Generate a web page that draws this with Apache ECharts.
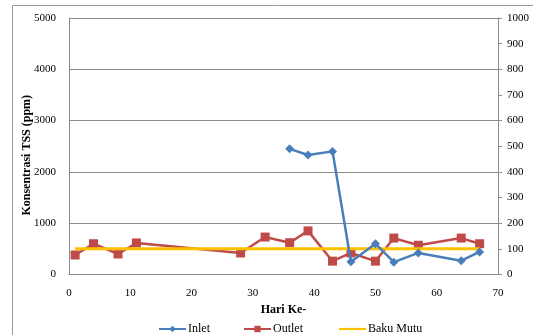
<!DOCTYPE html>
<html>
<head>
<meta charset="utf-8">
<script src="https://cdn.jsdelivr.net/npm/echarts@6/dist/echarts.min.js"></script>
<style>
  html, body { margin: 0; padding: 0; background: #fff; }
  #chart { width: 533px; height: 335px; }
</style>
</head>
<body>
<div id="chart"></div>
<script>
// Sampling days (Hari Ke-) and TSS concentrations (ppm)
const inletDays = [36, 39, 43, 46, 50, 53, 57, 64, 67];
const inletTSS = [2450, 2330, 2400, 250, 600, 240, 420, 270, 440];

const outletDays = [1, 4, 8, 11, 28, 32, 36, 39, 43, 46, 50, 53, 57, 64, 67];
const outletTSS = [380, 600, 400, 615, 420, 730, 620, 850, 260, 420, 260, 710, 570, 710, 600];

// Quality standard (Baku Mutu) line
const bakuMutuDays = [1, 67];
const bakuMutuTSS = [500, 500];

const leftTicks = { min: 0, max: 5000, interval: 1000 };
const rightTicks = { min: 0, max: 1000, interval: 100 };
const xTicks = { min: 0, max: 70, interval: 10 };

const pairs = (xs, ys) => xs.map((x, i) => [x, ys[i]]);

const serif = '"Liberation Serif", "DejaVu Serif", serif';
const axisGray = '#8c8c8c';
const plain = v => String(v);

const legendBase = {
  top: 318,
  itemWidth: 27,
  itemHeight: 8,
  textStyle: { fontFamily: serif, fontSize: 12, color: '#000', padding: [0, 0, 0, -3] }
};

const chart = echarts.init(document.getElementById('chart'));
chart.setOption({
  animation: false,
  textStyle: { fontFamily: serif },
  grid: { left: 69, right: 35, top: 18, bottom: 60.5 },
  graphic: [
    {
      type: 'polyline',
      shape: { points: [[12.5, 340], [12.5, 5.5], [540, 5.5]] },
      style: { stroke: '#9a9a9a', lineWidth: 1, fill: null }
    }
  ],
  xAxis: {
    type: 'value',
    min: xTicks.min, max: xTicks.max, interval: xTicks.interval,
    name: 'Hari Ke-',
    nameLocation: 'middle',
    nameGap: 29,
    nameMoveOverlap: false,
    nameTextStyle: { fontFamily: serif, fontWeight: 'bold', fontSize: 12, color: '#000' },
    axisLine: { show: true, lineStyle: { color: axisGray } },
    axisTick: { show: false },
    splitLine: { show: false },
    axisLabel: { color: '#000', fontSize: 11, margin: 13, fontFamily: serif, formatter: plain }
  },
  yAxis: [
    {
      type: 'value',
      min: leftTicks.min, max: leftTicks.max, interval: leftTicks.interval,
      name: 'Konsentrasi TSS (ppm)',
      nameLocation: 'middle',
      nameGap: 36,
      nameRotate: 90,
      nameMoveOverlap: false,
      nameTextStyle: { fontFamily: serif, fontWeight: 'bold', fontSize: 12, color: '#000', padding: [0, 18, 0, 0] },
      axisLine: { show: true, lineStyle: { color: axisGray } },
      axisTick: { show: false },
      splitLine: { show: true, lineStyle: { color: axisGray, width: 1 } },
      axisLabel: { color: '#000', fontSize: 11, margin: 13, fontFamily: serif, formatter: plain }
    },
    {
      type: 'value',
      position: 'right',
      min: rightTicks.min, max: rightTicks.max, interval: rightTicks.interval,
      axisLine: { show: true, lineStyle: { color: axisGray } },
      axisTick: { show: true, inside: false, length: 4, lineStyle: { color: axisGray } },
      splitLine: { show: false },
      axisLabel: { color: '#000', fontSize: 11, margin: 9, fontFamily: serif, formatter: plain }
    }
  ],
  legend: [
    Object.assign({}, legendBase, { left: 153, data: ['Inlet'] }),
    Object.assign({}, legendBase, { left: 238, data: ['Outlet'] }),
    Object.assign({}, legendBase, {
      left: 334,
      data: [{ name: 'Baku Mutu', icon: 'path://M0,3 L27,3 L27,5.2 L0,5.2 Z' }]
    })
  ],
  series: [
    {
      name: 'Outlet',
      type: 'line',
      yAxisIndex: 0,
      data: pairs(outletDays, outletTSS),
      symbol: 'rect',
      symbolSize: 9,
      lineStyle: { color: '#BE4B48', width: 2.5 },
      itemStyle: { color: '#BE4B48' },
      z: 2
    },
    {
      name: 'Baku Mutu',
      type: 'line',
      yAxisIndex: 0,
      data: pairs(bakuMutuDays, bakuMutuTSS),
      symbol: 'none',
      lineStyle: { color: '#FFC000', width: 3 },
      itemStyle: { color: '#FFC000' },
      z: 3
    },
    {
      name: 'Inlet',
      type: 'line',
      yAxisIndex: 0,
      data: pairs(inletDays, inletTSS),
      symbol: 'diamond',
      symbolSize: 9,
      lineStyle: { color: '#4A7EBB', width: 2.5 },
      itemStyle: { color: '#4A7EBB' },
      z: 4
    }
  ]
});
</script>
</body>
</html>
